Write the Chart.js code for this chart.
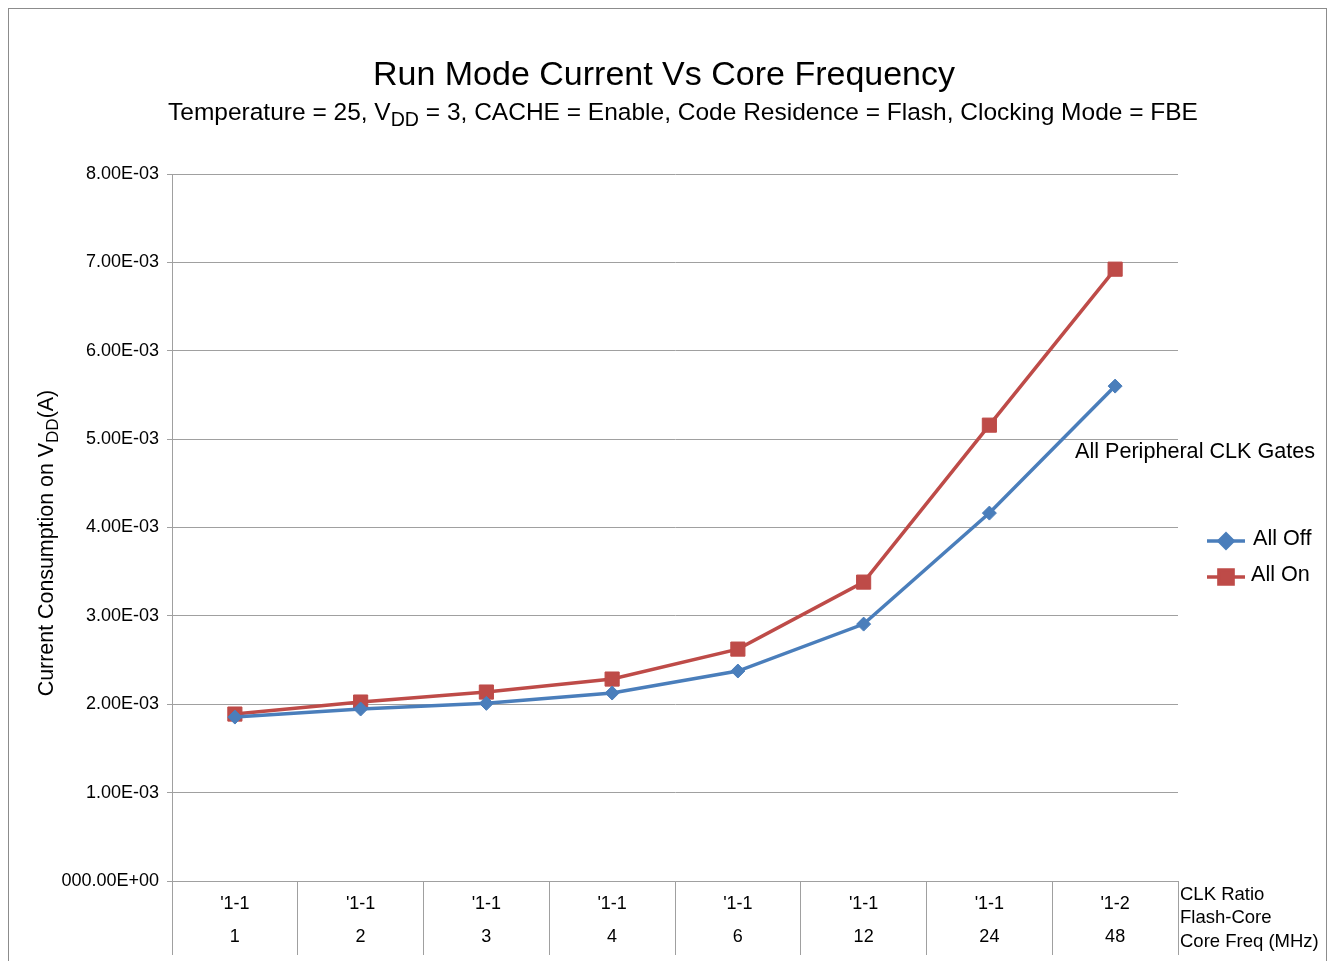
<!DOCTYPE html>
<html>
<head>
<meta charset="utf-8">
<script src="https://cdn.jsdelivr.net/npm/chart.js@4/dist/chart.umd.min.js"></script>
<style>
  body { margin: 0; background: #fff; }
  canvas { display: block; }
</style>
</head>
<body>
<canvas id="chart" width="1327" height="961"></canvas>
<script>
// data
var clkRatios = ["'1-1", "'1-1", "'1-1", "'1-1", "'1-1", "'1-1", "'1-1", "'1-2"];
var coreFreqs = ['1', '2', '3', '4', '6', '12', '24', '48'];
var allOff = [1.855e-3, 1.946e-3, 2.010e-3, 2.127e-3, 2.376e-3, 2.907e-3, 4.163e-3, 5.600e-3];
var allOn = [1.889e-3, 2.025e-3, 2.138e-3, 2.285e-3, 2.624e-3, 3.382e-3, 5.158e-3, 6.923e-3];
var yTickLabels = ['000.00E+00', '1.00E-03', '2.00E-03', '3.00E-03', '4.00E-03', '5.00E-03', '6.00E-03', '7.00E-03', '8.00E-03'];
var axisRowNames = ['CLK Ratio', 'Flash-Core', 'Core Freq (MHz)'];

var labels = clkRatios.map(function (r, i) { return [r, coreFreqs[i]]; });

var FONT = '"Liberation Sans", Arial, sans-serif';
var blue = '#4a7ebb';
var red = '#be4b48';
var gridGray = '#a0a0a0';

// text with subscript pieces, e.g. V_DD
function richWidth(ctx, parts, size) {
  var w = 0;
  parts.forEach(function (p) {
    ctx.font = (p.sub ? size * 0.8 : size) + 'px ' + FONT;
    w += ctx.measureText(p.t).width;
  });
  return w;
}
function drawRich(ctx, parts, x, y, size, align) {
  var w = richWidth(ctx, parts, size);
  var cx = align === 'center' ? x - w / 2 : x;
  ctx.textAlign = 'left';
  ctx.textBaseline = 'middle';
  parts.forEach(function (p) {
    ctx.font = (p.sub ? size * 0.8 : size) + 'px ' + FONT;
    ctx.fillText(p.t, cx, p.sub ? y + size * 0.3 : y);
    cx += ctx.measureText(p.t).width;
  });
}

var decorations = {
  id: 'decorations',
  beforeDraw: function (chart) {
    var ctx = chart.ctx;
    ctx.save();
    ctx.fillStyle = '#fff';
    ctx.fillRect(0, 0, chart.width, chart.height);
    ctx.strokeStyle = '#8c8c8c';
    ctx.lineWidth = 1;
    ctx.strokeRect(8.5, 8.5, 1318, 1100);
    ctx.restore();
  },
  afterDraw: function (chart) {
    var ctx = chart.ctx;
    var area = chart.chartArea;
    ctx.save();
    ctx.fillStyle = '#000';

    // titles
    drawRich(ctx, [{ t: 'Run Mode Current Vs Core Frequency' }], 664, 76, 34, 'center');
    drawRich(ctx, [
      { t: 'Temperature = 25, V' }, { t: 'DD', sub: true },
      { t: ' = 3, CACHE = Enable, Code Residence = Flash, Clocking Mode = FBE' }
    ], 683, 113, 24.5, 'center');

    // y axis title
    ctx.save();
    ctx.translate(47, 543);
    ctx.rotate(-Math.PI / 2);
    drawRich(ctx, [{ t: 'Current Consumption on V' }, { t: 'DD', sub: true }, { t: '(A)' }], 0, 0, 21.4, 'center');
    ctx.restore();

    // annotation
    ctx.font = '21.6px ' + FONT;
    ctx.textAlign = 'left';
    ctx.textBaseline = 'middle';
    ctx.fillText('All Peripheral CLK Gates', 1075, 452);

    // row names right of the category axis
    ctx.font = '18.5px ' + FONT;
    var rowY = [895, 918, 942];
    axisRowNames.forEach(function (t, i) { ctx.fillText(t, area.right + 2, rowY[i]); });

    // legend
    var legY = [541, 577];
    chart.data.datasets.forEach(function (ds, i) {
      var y = legY[i];
      ctx.strokeStyle = ds.borderColor;
      ctx.lineWidth = 3.5;
      ctx.beginPath();
      ctx.moveTo(1207, y);
      ctx.lineTo(1245, y);
      ctx.stroke();
      ctx.fillStyle = ds.backgroundColor;
      Chart.helpers.drawPoint(ctx, { pointStyle: ds.pointStyle, radius: ds.pointRadius, rotation: 0, borderWidth: 1 }, 1226, y);
      ctx.fillStyle = '#000';
      ctx.font = '21.6px ' + FONT;
      ctx.fillText(ds.label, 1253 - i * 2, y - 2);
    });
    ctx.restore();
  }
};

var data = {
  labels: labels,
  datasets: [{
    label: 'All Off',
    data: allOff,
    borderColor: blue,
    backgroundColor: blue,
    borderWidth: 3.5,
    pointStyle: 'rectRot',
    pointRadius: 7,
    pointBorderWidth: 1,
    tension: 0
  }, {
    label: 'All On',
    data: allOn,
    borderColor: red,
    backgroundColor: red,
    borderWidth: 3.5,
    pointStyle: 'rect',
    pointRadius: 10,
    pointBorderWidth: 1,
    tension: 0
  }]
};

var chartConfig = {
  type: 'line',
  data: data,
  options: {
    responsive: false,
    animation: false,
    devicePixelRatio: 1,
    layout: { padding: { top: 174, right: 149, left: 0, bottom: 0 } },
    plugins: {
      legend: { display: false },
      title: { display: false },
      tooltip: { enabled: false }
    },
    scales: {
      x: {
        offset: true,
        grid: {
          offset: true,
          drawOnChartArea: false,
          drawTicks: true,
          tickLength: 74,
          color: gridGray
        },
        border: { color: gridGray },
        ticks: {
          color: '#000',
          font: { family: FONT, size: 18, lineHeight: 1.85 },
          padding: -68,
          maxRotation: 0,
          autoSkip: false
        },
        afterFit: function (scale) { scale.height = 80; }
      },
      y: {
        min: 0,
        max: 0.008,
        grid: { color: gridGray, tickLength: 5 },
        border: { color: gridGray },
        ticks: {
          stepSize: 0.001,
          color: '#000',
          font: { family: FONT, size: 18 },
          padding: 8,
          callback: function (v, i) { return yTickLabels[i]; }
        },
        afterFit: function (scale) { scale.width = 172; }
      }
    }
  },
  plugins: [decorations]
};

new Chart(document.getElementById('chart'), chartConfig);
</script>
</body>
</html>
